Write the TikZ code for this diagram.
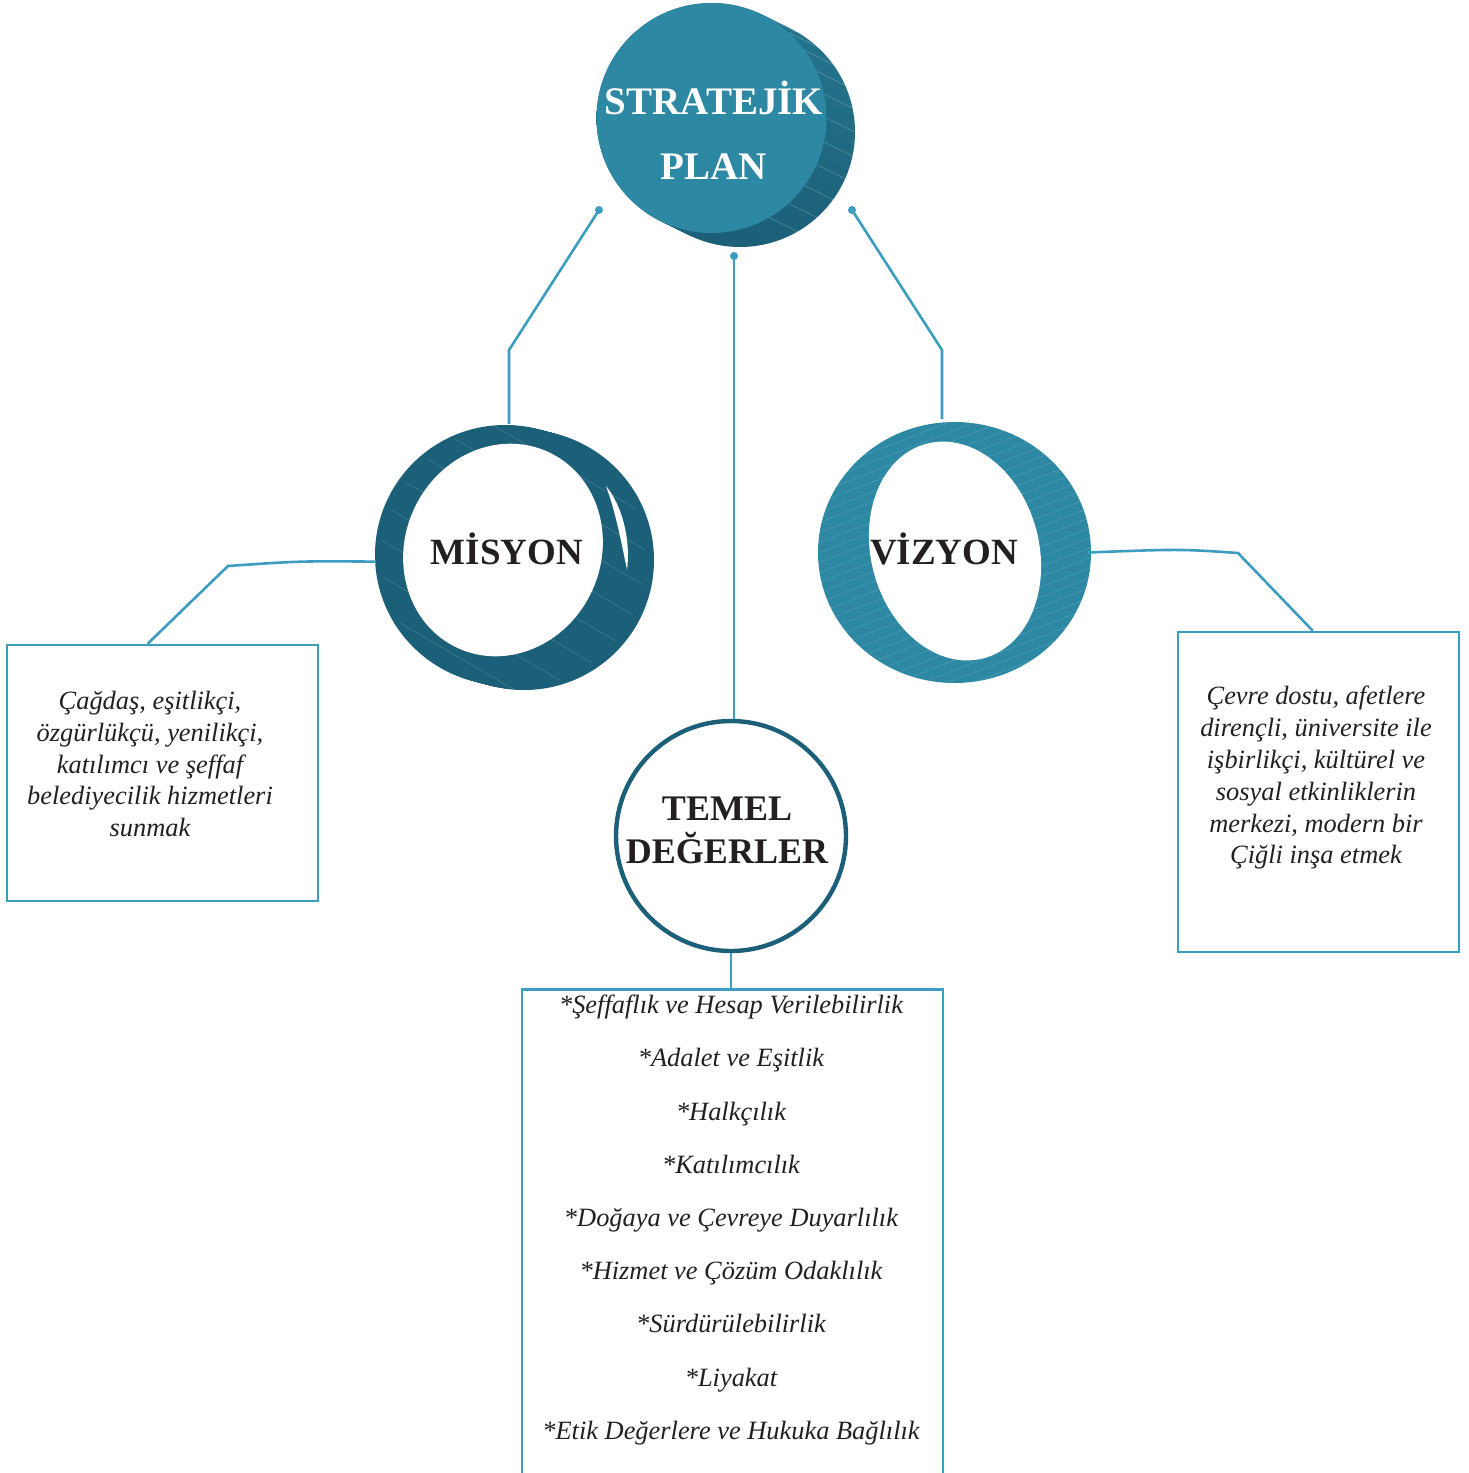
\documentclass[tikz,border=0pt]{standalone}
\usepackage{fontspec}
\setmainfont{Liberation Serif}
\usetikzlibrary{positioning,calc}
\definecolor{acik}{HTML}{2D88A4}
\definecolor{koyu}{HTML}{1B6078}
\definecolor{yan}{HTML}{25768F}
\definecolor{cizgi}{HTML}{3C9DC0}
\definecolor{yazi}{HTML}{231F20}

\begin{document}
\begin{tikzpicture}[x=0.5pt,y=-0.5pt]
	\tikzstyle{baglanti} = [draw=cizgi, line width=1.3pt]
	\tikzstyle{kutu} = [draw=cizgi, line width=1.3pt, rectangle, inner sep=0pt]
	\tikzstyle{baslik} = [align=center, text=yazi, font=\bfseries\fontsize{18.5}{21.5}\selectfont]
	\tikzstyle{metin} = [align=center, text=yazi, font=\itshape\fontsize{13.2}{15.9}\selectfont]
	\tikzstyle{nokta} = [fill=cizgi]
	\useasboundingbox (0,0) rectangle (1468,1473);

	% Stratejik plan silindiri
	\foreach \p in {100,90,...,0}
		\shade[top color=yan, bottom color=koyu] ($(711.5,118)!\p/100!(740,132)$) circle (57.5pt);
	\foreach \a in {-60,-48,...,60}
		\draw[white, opacity=.25, line width=.3pt] ($(711.5,118)+(\a:115)$) -- ($(740,132)+(\a:115)$);
	\node (plan) [circle, fill=acik, minimum size=115pt, inner sep=0pt] at (711.5,118) {};
	\node (planyazi) [baslik, text=white, font=\bfseries\fontsize{19.5}{32.5}\selectfont] at (714,130) {STRATEJİK\\PLAN};

	% Noktalar
	\coordinate (solnokta) at (599,210);
	\coordinate (sagnokta) at (852,210);
	\coordinate (ortanokta) at (734,256);
	\coordinate (solkirik) at (509,350);
	\coordinate (sagkirik) at (942,350);

	% Misyon halkasi
	\foreach \p in {0,10,...,100}
		\fill[koyu] ($(505,555)!\p/100!(524,560)$) circle (65pt);
	\begin{scope}
		\clip (514,557) circle (66pt);
		\foreach \k in {0,36,...,400}
			\draw[white, opacity=.18, line width=.3pt] (340,300+\k) -- ++(360,210);
	\end{scope}
	\fill[white, rotate around={-25:(503,550)}] (503,550) ellipse (49pt and 54pt);
	\fill[white] (606,486) .. controls (622,505) and (631,540) .. (627,570)
		.. controls (621,540) and (615,510) .. (606,486);
	\node (misyon) [circle, minimum size=132.5pt, inner sep=0pt] at (509,557) {};
	\node (misyonyazi) [baslik] at (507,549) {MİSYON};

	% Vizyon halkasi
	\fill[acik] (954.5,552.5) ellipse (68.25pt and 65.25pt);
	\begin{scope}
		\clip (954.5,552.5) ellipse (68.25pt and 65.25pt);
		\foreach \k in {0,10,...,460}
			\draw[white, opacity=.18, line width=.25pt] (800,440+\k) -- ++(310,-120);
	\end{scope}
	\fill[white, rotate around={15:(955,551)}] (955,551) ellipse (42pt and 55.5pt);
	\node (vizyon) [circle, minimum size=133pt, inner sep=0pt] at (954.5,552.5) {};
	\node (vizyonyazi) [baslik] at (944,549) {VİZYON};

	% Temel degerler
	\node (temel) [circle, draw=koyu, line width=2.2pt, minimum size=115pt, inner sep=0pt] at (731,836) {};
	\node (temelyazi) [baslik, font=\bfseries\fontsize{18}{21.5}\selectfont] at (727,830) {TEMEL\\DEĞERLER};

	% Kutular
	\node (misyonbox) [kutu, minimum width=155.5pt, minimum height=128pt] at (162.5,773) {};
	\node (misyonmetin) [metin] at (150,764) {Çağdaş, eşitlikçi,\\özgürlükçü, yenilikçi,\\katılımcı ve şeffaf\\belediyecilik hizmetleri\\sunmak};
	\node (vizyonbox) [kutu, minimum width=140.5pt, minimum height=160pt] at (1318.5,792) {};
	\node (vizyonmetin) [metin] at (1316,778) {Çevre dostu, afetlere\\dirençli, üniversite ile\\işbirlikçi, kültürel ve\\sosyal etkinliklerin\\merkezi, modern bir\\Çiğli inşa etmek};
	\node (degerbox) [kutu, minimum width=210.5pt, minimum height=300pt, anchor=north] at (732.5,988) {};
	\node (degerliste) [metin, font=\itshape\fontsize{13.2}{26.6}\selectfont] at (731,1220) {*Şeffaflık ve Hesap Verilebilirlik\\*Adalet ve Eşitlik\\*Halkçılık\\*Katılımcılık\\*Doğaya ve Çevreye Duyarlılık\\*Hizmet ve Çözüm Odaklılık\\*Sürdürülebilirlik\\*Liyakat\\*Etik Değerlere ve Hukuka Bağlılık};

	% Baglantilar
	\draw[baglanti] (solnokta) -- (solkirik) -- (solkirik |- misyon.north);
	\draw[baglanti] (sagnokta) -- (sagkirik) -- (sagkirik |- vizyon.north);
	\draw[baglanti] (ortanokta) -- (ortanokta |- temel.north);
	\draw[baglanti] (temel.south) -- (temel.south |- degerbox.north);
	\draw[baglanti] (misyon.182) .. controls (300,561) .. (228,566) -- ([xshift=71pt]misyonbox.north west);
	\draw[baglanti] (vizyon.east) .. controls (1180,549) .. (1238,553) -- ([xshift=68pt]vizyonbox.north west);
	\fill[nokta] (solnokta) circle (2pt);
	\fill[nokta] (sagnokta) circle (2pt);
	\fill[nokta] (ortanokta) circle (2pt);
\end{tikzpicture}
\end{document}
